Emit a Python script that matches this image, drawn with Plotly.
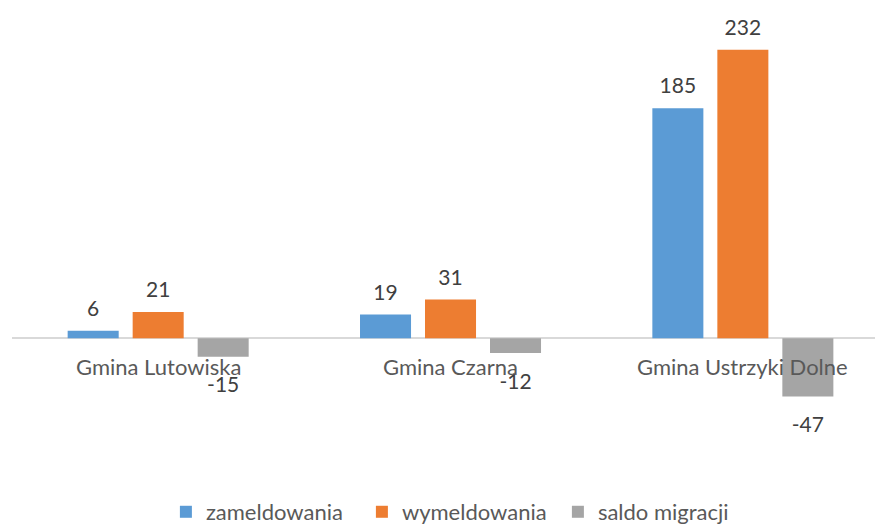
import plotly.graph_objects as go

categories = ["Gmina Lutowiska", "Gmina Czarna", "Gmina Ustrzyki Dolne"]
zameldowania = [6, 19, 185]
wymeldowania = [21, 31, 232]
saldo = [-15, -12, -47]
series_names = ["zameldowania", "wymeldowania", "saldo migracji"]
colors = ["#5B9BD5", "#ED7D31", "#A5A5A5"]

FONT = "Lato"

fig = go.Figure()
for name, vals, col in zip(series_names, [zameldowania, wymeldowania, saldo], colors):
    fig.add_trace(go.Bar(
        x=categories, y=vals, name=name, offsetgroup=name,
        marker=dict(color=col, line=dict(width=0)),
    ))
for name, vals in zip(series_names, [zameldowania, wymeldowania, saldo]):
    fig.add_trace(go.Scatter(
        x=categories, y=vals, mode="markers+text", offsetgroup=name,
        text=[str(v) for v in vals],
        textposition=["top center" if v >= 0 else "bottom center" for v in vals],
        marker=dict(size=[14 if v >= 0 else 30 for v in vals], opacity=0),
        textfont=dict(family=FONT, size=21, color="#404040"),
        showlegend=False, hoverinfo="skip", cliponaxis=False,
    ))

for c in categories:
    fig.add_annotation(x=c, y=0, xref="x", yref="y", text=c, showarrow=False,
                       yshift=-28, yanchor="middle",
                       font=dict(family=FONT, size=22, color="#595959"))

fig.update_layout(
    width=875, height=525,
    margin=dict(l=12, r=0, t=0, b=65, autoexpand=False),
    paper_bgcolor="white", plot_bgcolor="white",
    barmode="group", bargap=0.333, bargroupgap=0.215,
    scattermode="group", scattergap=0.333,
    showlegend=True,
    legend=dict(orientation="h", x=0.519, xanchor="center", y=-0.113,
                yanchor="middle", font=dict(family=FONT, size=22, color="#595959"),
                traceorder="normal", entrywidth=151, entrywidthmode="pixels"),
    xaxis=dict(range=[-0.5, 2.452], showticklabels=False, showgrid=False,
               showline=False, ticks=""),
    yaxis=dict(range=[-98, 272], showticklabels=False, showgrid=False, showline=False,
               zeroline=True, zerolinecolor="#D9D9D9", zerolinewidth=1.5),
)

fig.write_html("out.html", config={"displayModeBar": False},
               post_script="document.body.style.margin='0';")
